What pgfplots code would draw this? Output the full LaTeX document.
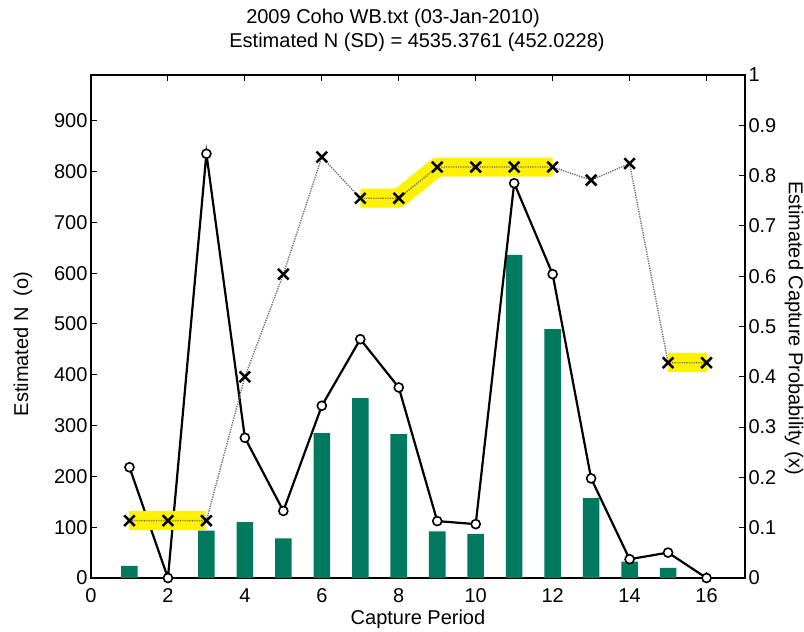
\documentclass[border=0pt]{standalone}
\usepackage{fontspec}
\setmainfont{Liberation Sans}
\usepackage{pgfplots}
\pgfplotsset{compat=1.18}
\definecolor{bargreen}{RGB}{0,122,94}
\definecolor{dotgray}{RGB}{105,105,105}
\begin{document}
\begin{tikzpicture}[font=\fontsize{20}{24}\selectfont]
\useasboundingbox (0,0) rectangle (804pt,632pt);
\pgfplotsset{
  every axis/.append style={
    scale only axis, width=654pt, height=503pt,
    at={(91pt,54pt)}, anchor=south west,
    xmin=0, xmax=17, clip=false,
    tick align=inside, major tick length=6pt,
    tick style={black, line width=1pt},
    axis line style={line width=1.6pt},
    tick label style={font=\fontsize{20}{24}\selectfont},
    /pgf/number format/assume math mode=true,
  }
}
\begin{axis}[
  ymin=0, ymax=990,
  xtick={0,2,...,16}, xtick pos=both,
  ytick={0,100,...,900}, ytick pos=left,
  xticklabel style={yshift=-7pt},
]
\addplot[ybar, bar width=0.43, bar shift=0pt, fill=bargreen, draw=none] coordinates {
  (1,24) (3,93) (4,110) (5,78) (6,285) (7,354) (8,283) (9,92) (10,87)
  (11,636) (12,490) (13,157) (14,32) (15,20)
};
\addplot[black, line width=2.2pt, mark=*, mark size=4.5pt,
  mark options={fill=white, draw=black, line width=1.6pt}] coordinates {
  (1,218) (2,0) (3,835) (4,276) (5,132) (6,339) (7,470) (8,375)
  (9,112) (10,106) (11,777) (12,598) (13,196) (14,37) (15,50) (16,0)
};
\end{axis}
\begin{axis}[
  ymin=0, ymax=1,
  hide x axis, axis y line*=right,
  ytick={0,0.1,0.2,0.3,0.4,0.5,0.6,0.7,0.8,0.9,1},
  yticklabels={0,0.1,0.2,0.3,0.4,0.5,0.6,0.7,0.8,0.9,1},
]
\addplot[yellow, line width=19pt, line cap=butt, line join=round] coordinates {
  (1,0.114) (2,0.114) (3,0.114)
};
\addplot[yellow, line width=19pt, line cap=butt, line join=round] coordinates {
  (7,0.755) (8,0.755) (9,0.817) (10,0.817) (11,0.817) (12,0.817)
};
\addplot[yellow, line width=19pt, line cap=butt, line join=round] coordinates {
  (15,0.428) (16,0.428)
};
\addplot[dotgray, line width=1.4pt, dash pattern=on 1.2pt off 1.2pt,
  mark=x, mark size=7.5pt,
  mark options={solid, black, line width=2.5pt}] coordinates {
  (1,0.114) (2,0.114) (3,0.114) (4,0.40) (5,0.604) (6,0.837) (7,0.755) (8,0.755)
  (9,0.817) (10,0.817) (11,0.817) (12,0.817) (13,0.791) (14,0.824) (15,0.428) (16,0.428)
};
\end{axis}
\node at (393pt,614pt) {2009 Coho WB.txt (03-Jan-2010)};
\node at (417pt,590pt) {Estimated N (SD) = 4535.3761 (452.0228)};
\node at (418pt,13pt) {Capture Period};
\node[rotate=90] at (23pt,288pt) {Estimated N\ \ (o)};
\node[rotate=-90] at (794pt,304pt) {Estimated Capture Probability (x)};
\end{tikzpicture}
\end{document}
